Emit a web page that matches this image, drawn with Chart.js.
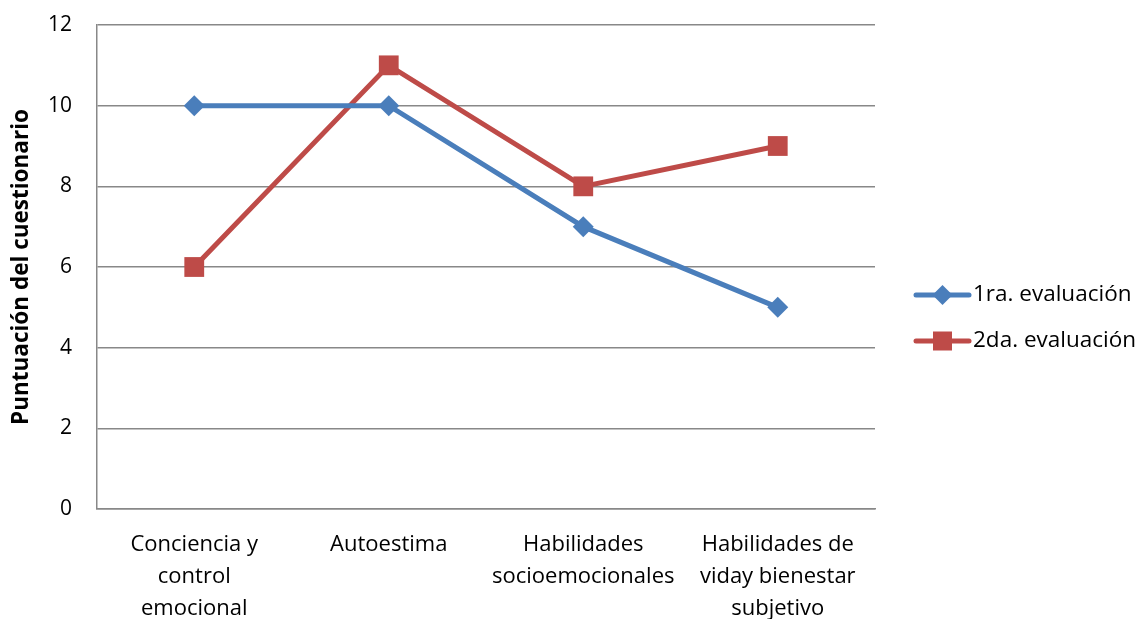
<!DOCTYPE html>
<html>
<head>
<meta charset="utf-8">
<script src="https://cdn.jsdelivr.net/npm/chart.js@4.4.1/dist/chart.umd.min.js"></script>
<style>
  html, body { margin: 0; padding: 0; background: #fff; }
  #wrap { width: 1145px; height: 619px; }
</style>
</head>
<body>
<div id="wrap"><canvas id="c" width="1145" height="619"></canvas></div>
<script>
// Questionnaire scores per dimension, two evaluation rounds
const categories = [
  ['Conciencia y', 'control', 'emocional'],
  ['Autoestima'],
  ['Habilidades', 'socioemocionales'],
  ['Habilidades de', 'viday bienestar', 'subjetivo']
];
const seriesNames = ['1ra. evaluación', '2da. evaluación'];
const firstEval = [10, 10, 7, 5];
const secondEval = [6, 11, 8, 9];
const yTicks = [0, 2, 4, 6, 8, 10, 12];

const FONT = '"Open Sans", Lato, sans-serif';
const BLUE = '#4A7EBB';
const RED = '#BE4B48';

// Legend drawn to the right of the plot: line sample with the series marker
const sideLegend = {
  id: 'sideLegend',
  afterDraw(chart) {
    const ctx = chart.ctx;
    const x0 = 916, x1 = 969, rows = [295, 341];
    ctx.save();
    chart.data.datasets.forEach((ds, i) => {
      const y = rows[i];
      ctx.strokeStyle = ds.borderColor;
      ctx.lineWidth = 5;
      ctx.lineCap = 'round';
      ctx.beginPath();
      ctx.moveTo(x0, y);
      ctx.lineTo(x1, y);
      ctx.stroke();
      const cx = (x0 + x1) / 2;
      ctx.fillStyle = ds.pointBackgroundColor;
      if (ds.pointStyle === 'rectRot') {
        const r = 10;
        ctx.beginPath();
        ctx.moveTo(cx, y - r);
        ctx.lineTo(cx + r, y);
        ctx.lineTo(cx, y + r);
        ctx.lineTo(cx - r, y);
        ctx.closePath();
        ctx.fill();
      } else {
        ctx.fillRect(cx - 9.5, y - 9.5, 19, 19);
      }
      ctx.fillStyle = '#000';
      ctx.font = '22.5px ' + FONT;
      ctx.textBaseline = 'middle';
      ctx.textAlign = 'left';
      ctx.fillText(ds.label, x1 + 4, y);
    });
    ctx.restore();
  }
};

new Chart(document.getElementById('c'), {
  type: 'line',
  data: {
    labels: categories,
    datasets: [
      {
        label: seriesNames[0],
        data: firstEval,
        borderColor: BLUE,
        backgroundColor: BLUE,
        pointBackgroundColor: BLUE,
        pointBorderColor: BLUE,
        pointStyle: 'rectRot',
        pointRadius: 10.5,
        pointBorderWidth: 0,
        borderWidth: 5,
        tension: 0
      },
      {
        label: seriesNames[1],
        data: secondEval,
        borderColor: RED,
        backgroundColor: RED,
        pointBackgroundColor: RED,
        pointBorderColor: RED,
        pointStyle: 'rect',
        pointRadius: 14,
        pointBorderWidth: 0,
        borderWidth: 5,
        tension: 0
      }
    ]
  },
  options: {
    responsive: false,
    animation: false,
    events: [],
    layout: { padding: { top: 25, right: 270, left: 0, bottom: 0 } },
    plugins: {
      legend: { display: false },
      tooltip: { enabled: false }
    },
    scales: {
      x: {
        offset: true,
        grid: { display: false, drawTicks: false },
        border: { display: true, color: '#888', width: 1.5 },
        ticks: {
          color: '#000',
          font: { family: FONT, size: 22, lineHeight: 1.45 },
          padding: 20,
          maxRotation: 0,
          autoSkip: false
        },
        afterFit(scale) {
          scale.height = 110;
          scale.paddingLeft = 0;
          scale.paddingRight = 0;
        }
      },
      y: {
        min: 0,
        max: 12,
        afterBuildTicks(scale) { scale.ticks = yTicks.map(v => ({ value: v })); },
        grid: { color: '#888', lineWidth: 1.5, drawTicks: false },
        border: { display: true, color: '#888', width: 1.5 },
        ticks: {
          color: '#000',
          font: { family: FONT, size: 21 },
          padding: 25
        },
        title: {
          display: true,
          text: 'Puntuación del cuestionario',
          color: '#000',
          font: { family: FONT, size: 22.5, weight: 'bold' },
          padding: { top: 8, bottom: 0 }
        },
        afterFit(scale) {
          scale.width = 97;
          scale.paddingTop = 0;
          scale.paddingBottom = 0;
        }
      }
    }
  },
  plugins: [sideLegend]
});
</script>
</body>
</html>
